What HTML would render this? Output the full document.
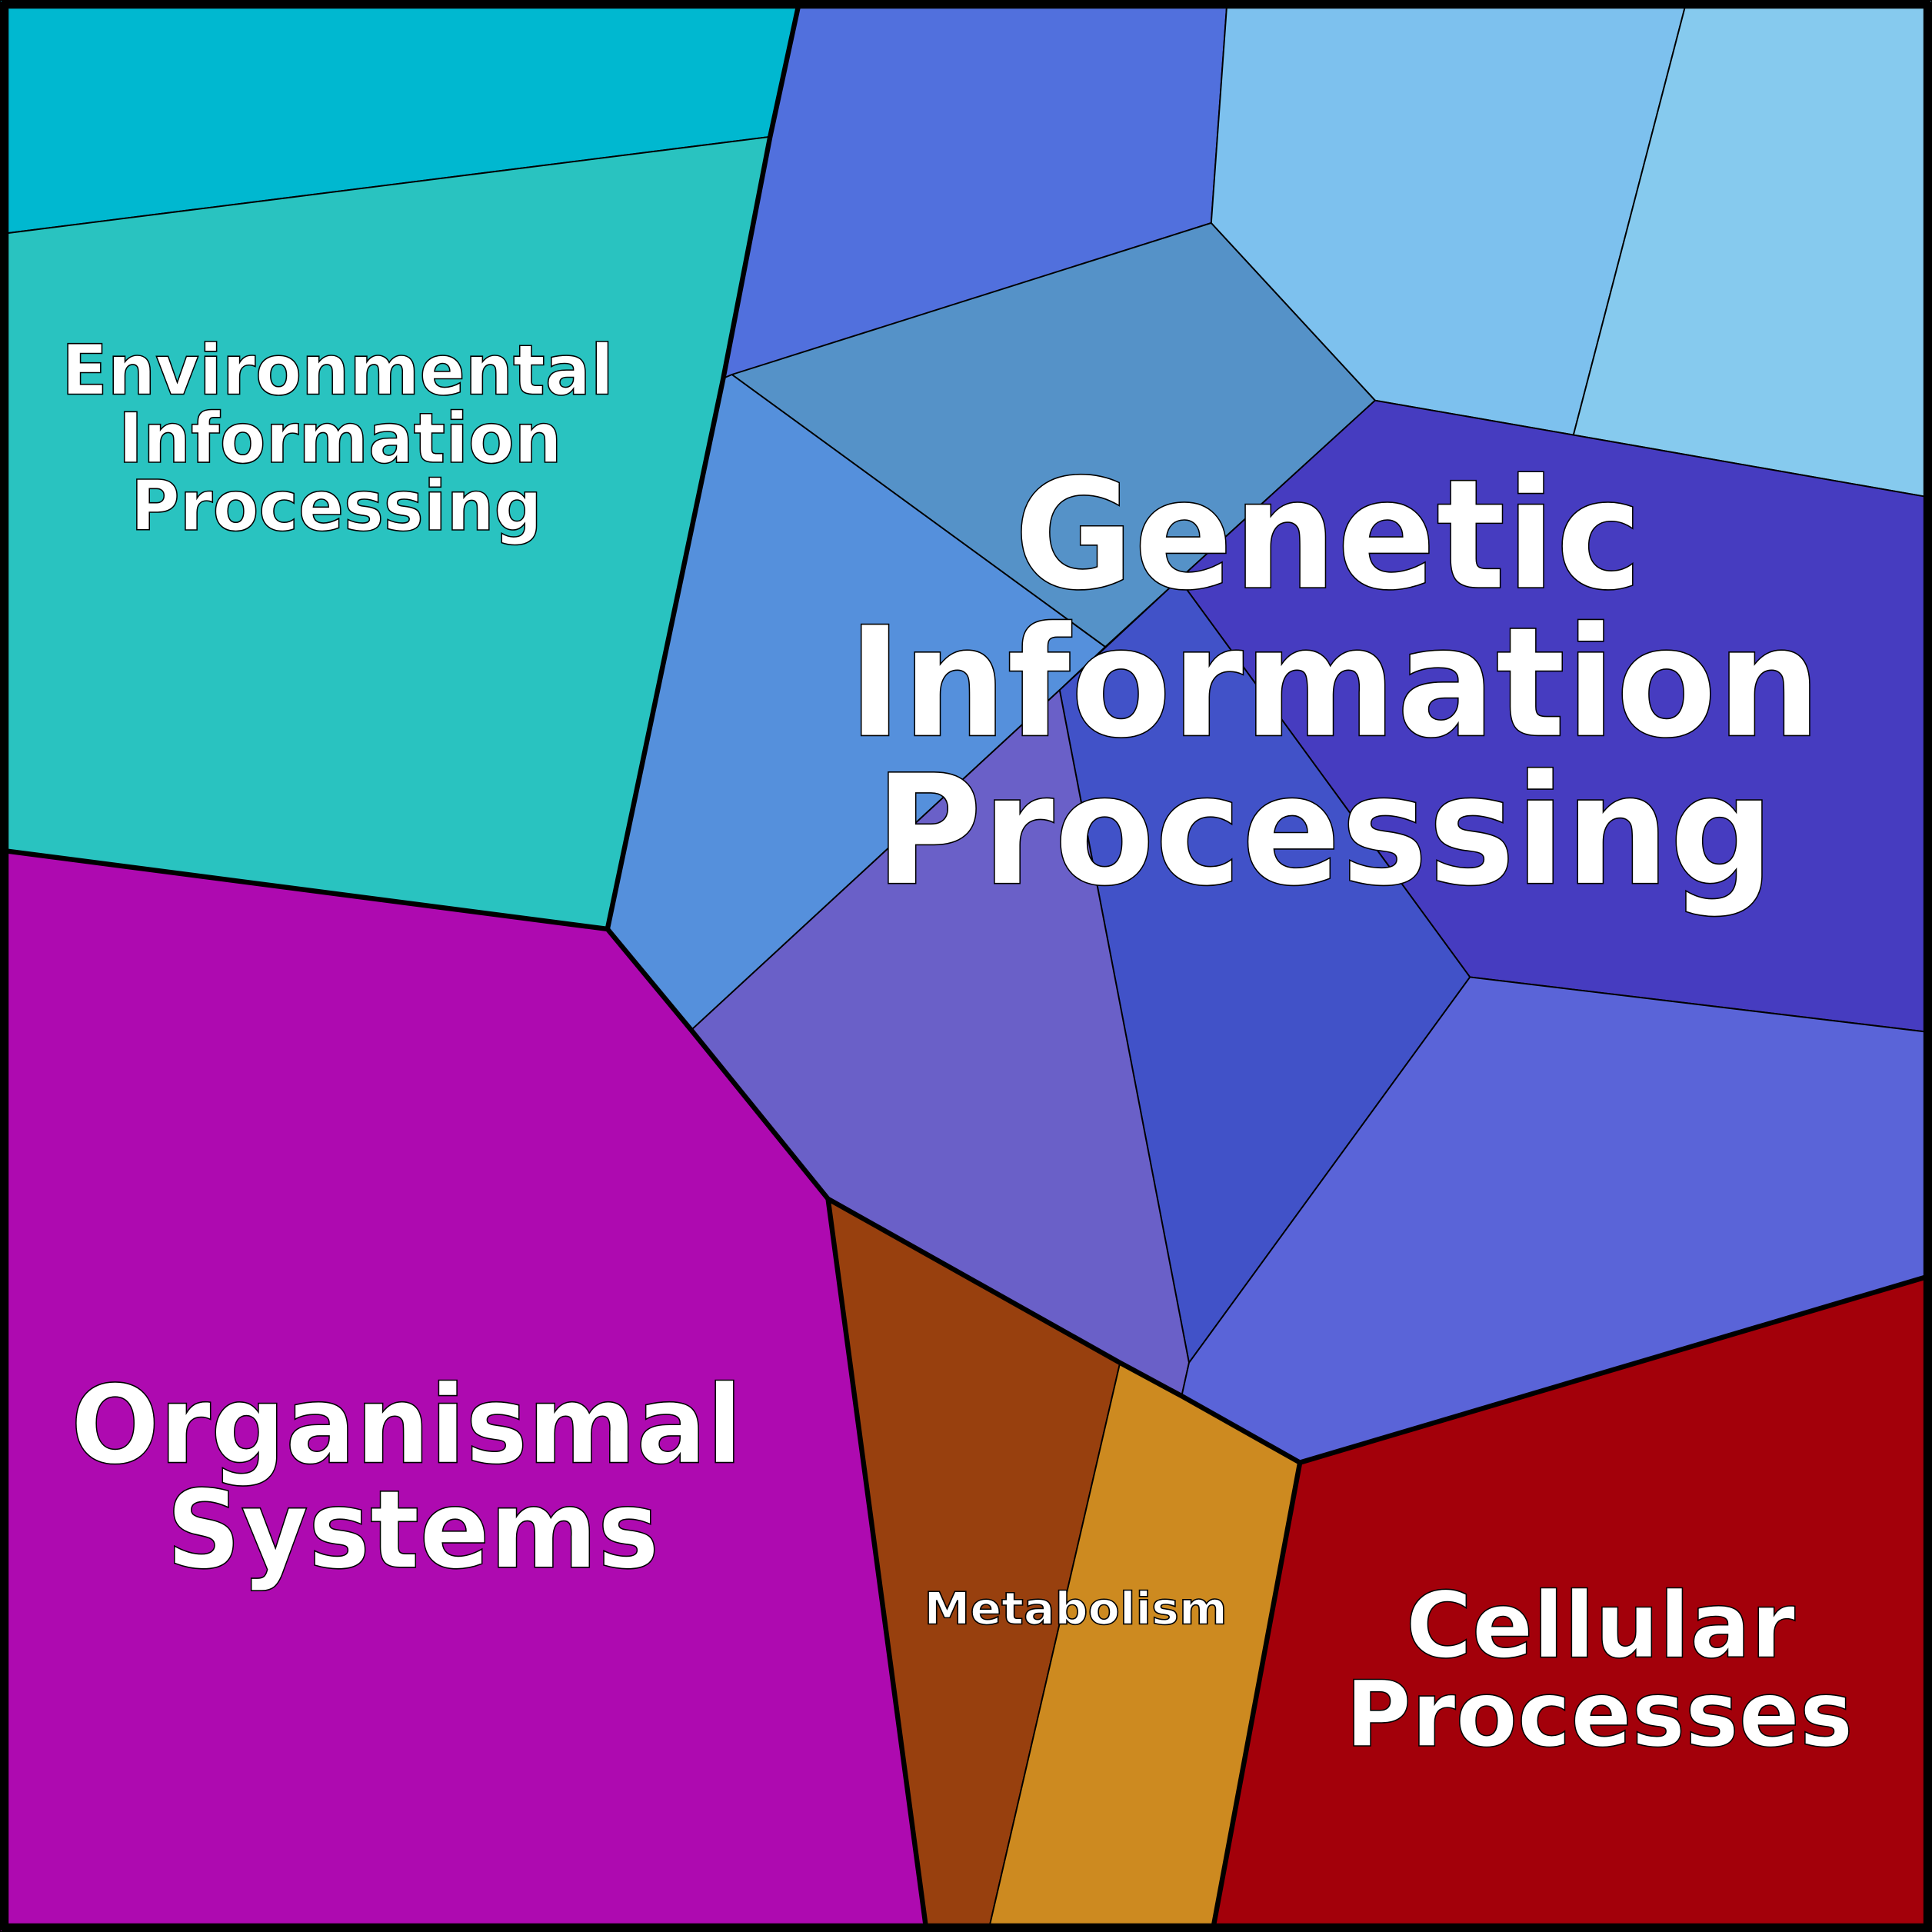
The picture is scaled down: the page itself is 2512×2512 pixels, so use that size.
<!DOCTYPE html>
<html><head><meta charset="utf-8"><style>
html,body{margin:0;padding:0;background:#fff}
svg{display:block}
text{font-family:"DejaVu Sans","Liberation Sans",sans-serif;font-weight:bold;fill:#fff;stroke:#000;text-anchor:middle}
</style></head><body>
<svg width="2512" height="2512" viewBox="0 0 1568 1568" xmlns="http://www.w3.org/2000/svg">
<g stroke="#000" stroke-width="1.2" stroke-linejoin="round">
<polygon fill="#00B8D0" points="0,0 649,0 625,111 0,190"/>
<polygon fill="#29C3C0" points="0,190 625,111 587,307 493,754 0,690"/>
<polygon fill="#AE0AB0" points="0,690 493,754 561,836 672,973 752,1568 0,1568"/>
<polygon fill="#98400E" points="672,973 909,1106 802,1568 752,1568"/>
<polygon fill="#CD8A20" points="909,1106 959,1133 1055,1187 984,1568 802,1568"/>
<polygon fill="#A3000A" points="1055,1187 1568,1035 1568,1568 984,1568"/>
<polygon fill="#5170DD" points="649,0 996,0 983,181 587,307 625,111"/>
<polygon fill="#7DC1EE" points="996,0 1369,0 1277,353 1116,325 983,181"/>
<polygon fill="#86CAEE" points="1369,0 1568,0 1568,404 1277,353"/>
<polygon fill="#5592C8" points="594,304 983,181 1116,325 957,470 897,525"/>
<polygon fill="#5590DC" points="587,307 594,304 897,525 860,560 561,836 493,754"/>
<polygon fill="#463CC0" points="1116,325 1277,353 1568,404 1568,838 1193,793 957,470"/>
<polygon fill="#4152C8" points="957,470 1193,793 965,1106 860,560"/>
<polygon fill="#6A60C8" points="860,560 965,1106 959,1133 909,1106 672,973 561,836"/>
<polygon fill="#5A64D8" points="1193,793 1568,838 1568,1035 1055,1187 959,1133 965,1106"/>
</g>
<g fill="none" stroke="#000" stroke-width="4" stroke-linejoin="round">
<polyline points="649,0 625,111 587,307 493,754 0,690"/>
<polyline points="493,754 561,836 672,973 752,1568"/>
<polyline points="672,973 909,1106 959,1133 1055,1187 984,1568"/>
<polyline points="1055,1187 1568,1035"/>
<rect x="3.5" y="3.5" width="1561" height="1561" stroke-width="7"/>
</g>
<g stroke-width="1">
<text font-size="124" x="1078" y="477" textLength="510" lengthAdjust="spacingAndGlyphs">Genetic</text>
<text font-size="124" x="1083" y="597" textLength="790" lengthAdjust="spacingAndGlyphs">Information</text>
<text font-size="124" x="1075" y="717" textLength="730" lengthAdjust="spacingAndGlyphs">Processing</text>
<text font-size="56" x="274" y="320" textLength="448" lengthAdjust="spacingAndGlyphs">Environmental</text>
<text font-size="56" x="276" y="375" textLength="360" lengthAdjust="spacingAndGlyphs">Information</text>
<text font-size="56" x="273" y="430" textLength="334" lengthAdjust="spacingAndGlyphs">Processing</text>
<text font-size="88" x="330" y="1187" textLength="545" lengthAdjust="spacingAndGlyphs">Organismal</text>
<text font-size="88" x="335" y="1272" textLength="400" lengthAdjust="spacingAndGlyphs">Systems</text>
<text font-size="36" x="873" y="1318" textLength="246" lengthAdjust="spacingAndGlyphs">Metabolism</text>
<text font-size="74" x="1299" y="1345" textLength="316" lengthAdjust="spacingAndGlyphs">Cellular</text>
<text font-size="74" x="1298" y="1417" textLength="412" lengthAdjust="spacingAndGlyphs">Processes</text>
</g>
</svg>
</body></html>
